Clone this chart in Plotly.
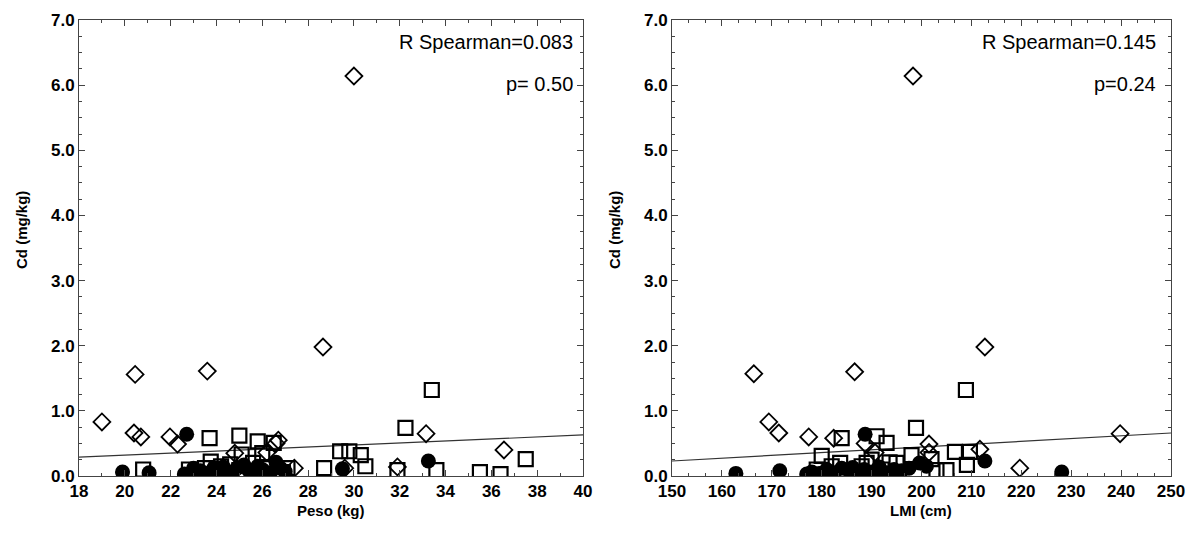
import plotly.graph_objects as go

# ---------------- data: left panel (Peso kg vs Cd mg/kg) ----------------
peso_diamond_x = [19.0, 20.45, 20.4, 20.7, 21.97, 22.3, 23.6, 28.65, 30.0, 33.15, 36.55,
                  24.8, 26.7, 26.6, 27.4, 26.2, 31.9, 29.6]
peso_diamond_y = [0.83, 1.56, 0.66, 0.60, 0.60, 0.49, 1.61, 1.98, 6.14, 0.65, 0.40,
                  0.35, 0.55, 0.50, 0.12, 0.36, 0.14, 0.12]

peso_square_x = [33.4, 32.25, 29.4, 29.8, 30.3, 30.5, 28.7, 31.9, 33.6, 35.5, 36.4, 37.5,
                 20.8, 23.7, 25.0, 25.8, 26.5, 23.75, 25.1, 26.0,
                 22.8, 23.5, 24.2, 25.0, 25.6, 26.3, 26.9, 27.1, 24.6]
peso_square_y = [1.32, 0.74, 0.38, 0.38, 0.32, 0.15, 0.12, 0.09, 0.09, 0.06, 0.03, 0.26,
                 0.10, 0.58, 0.62, 0.53, 0.51, 0.22, 0.33, 0.35,
                 0.10, 0.12, 0.15, 0.09, 0.20, 0.12, 0.06, 0.12, 0.18]

peso_circle_x = [22.7, 19.9, 21.06, 29.5, 33.25, 26.6, 25.2,
                 22.9, 23.3, 23.7, 24.1, 24.5, 24.9, 25.6, 26.0, 27.0, 23.0, 24.3, 25.8, 26.3,
                 22.6, 23.9, 24.7, 25.4, 26.8]
peso_circle_y = [0.64, 0.06, 0.05, 0.11, 0.23, 0.21, 0.17,
                 0.05, 0.08, 0.05, 0.10, 0.06, 0.12, 0.08, 0.10, 0.07, 0.12, 0.14, 0.15, 0.05,
                 0.03, 0.13, 0.04, 0.09, 0.12]

peso_fit_x = [18, 40]
peso_fit_y = [0.29, 0.63]

# ---------------- data: right panel (LMI cm vs Cd mg/kg) ----------------
lmi_diamond_x = [198.3, 166.4, 169.4, 171.4, 177.4, 182.4, 186.6, 212.7, 239.8, 219.7,
                 201.5, 201.5, 211.7, 188.7, 190.7]
lmi_diamond_y = [6.14, 1.57, 0.83, 0.66, 0.60, 0.58, 1.60, 1.98, 0.65, 0.12,
                 0.49, 0.36, 0.41, 0.50, 0.36]

lmi_square_x = [208.9, 198.9, 184.0, 191.0, 193.0, 180.0, 206.7, 209.7, 209.1, 198.0,
                203.0, 205.0, 189.0, 193.6, 183.7, 202.0,
                179.0, 182.0, 185.0, 188.0, 190.0, 192.0, 195.0]
lmi_square_y = [1.32, 0.74, 0.58, 0.61, 0.51, 0.31, 0.37, 0.37, 0.17, 0.32,
                0.09, 0.09, 0.20, 0.21, 0.20, 0.26,
                0.10, 0.15, 0.08, 0.15, 0.25, 0.10, 0.20]

lmi_circle_x = [162.8, 171.6, 228.1, 212.7, 188.7, 199.6,
                177.0, 178.0, 179.5, 181.0, 182.5, 184.0, 185.5, 187.0, 188.5, 190.0,
                191.5, 193.0, 194.5, 196.0, 201.0, 180.3, 186.2, 192.4, 197.5]
lmi_circle_y = [0.04, 0.08, 0.06, 0.23, 0.64, 0.20,
                0.03, 0.06, 0.04, 0.10, 0.05, 0.12, 0.08, 0.03, 0.10, 0.06,
                0.14, 0.05, 0.10, 0.08, 0.15, 0.02, 0.13, 0.03, 0.12]

lmi_fit_x = [150, 250]
lmi_fit_y = [0.23, 0.66]

y_ticks = [0, 1, 2, 3, 4, 5, 6, 7]
peso_ticks = list(range(18, 41, 2))
lmi_ticks = list(range(150, 251, 10))

FONT = "Liberation Sans, Arial, sans-serif"

fig = go.Figure()

def add_panel(xa, ya, dx, dy, sx, sy, cx, cy, fx, fy):
    fig.add_trace(go.Scatter(x=fx, y=fy, mode="lines", line=dict(color="#333333", width=1.2),
                             xaxis=xa, yaxis=ya, showlegend=False, hoverinfo="skip"))
    fig.add_trace(go.Scatter(x=cx, y=cy, mode="markers", xaxis=xa, yaxis=ya, showlegend=False,
                             marker=dict(symbol="circle", size=15, color="black",
                                         line=dict(color="black", width=0))))
    fig.add_trace(go.Scatter(x=sx, y=sy, mode="markers", xaxis=xa, yaxis=ya, showlegend=False,
                             marker=dict(symbol="square-open", size=14, color="black",
                                         line=dict(color="black", width=2.2))))
    fig.add_trace(go.Scatter(x=dx, y=dy, mode="markers", xaxis=xa, yaxis=ya, showlegend=False,
                             marker=dict(symbol="diamond-open", size=13, color="black",
                                         line=dict(color="black", width=1.8))))

add_panel("x", "y", peso_diamond_x, peso_diamond_y, peso_square_x, peso_square_y,
          peso_circle_x, peso_circle_y, peso_fit_x, peso_fit_y)
add_panel("x2", "y2", lmi_diamond_x, lmi_diamond_y, lmi_square_x, lmi_square_y,
          lmi_circle_x, lmi_circle_y, lmi_fit_x, lmi_fit_y)

W, H = 1195, 535
ydom = [1 - 476 / H, 1 - 20 / H]
x1dom = [79 / W, 583 / W]
x2dom = [672 / W, 1171 / W]

axis_common = dict(showline=True, linecolor="#444444", linewidth=1, mirror="ticks",
                   ticks="inside", ticklen=6, tickcolor="#444444", showgrid=False,
                   zeroline=False, automargin=False,
                   tickfont=dict(family=FONT, size=17, color="black", weight="bold"))

fig.update_layout(
    width=W, height=H,
    margin=dict(l=0, r=0, t=0, b=0),
    paper_bgcolor="white", plot_bgcolor="white",
    font=dict(family=FONT, color="black"),
    xaxis=dict(domain=x1dom, range=[18, 40], tickvals=peso_ticks, anchor="y",
               minor=dict(ticks="inside", ticklen=3, dtick=1, tickcolor="#444444"),
               **axis_common),
    yaxis=dict(domain=ydom, range=[0, 7], tickvals=y_ticks, tickformat=".1f", anchor="x",
               minor=dict(ticks="inside", ticklen=3, dtick=0.25, tickcolor="#444444"),
               **axis_common),
    xaxis2=dict(domain=x2dom, range=[150, 250], tickvals=lmi_ticks, anchor="y2",
                minor=dict(ticks="inside", ticklen=3, tick0=150, dtick=10 / 3, tickcolor="#444444"),
                **axis_common),
    yaxis2=dict(domain=ydom, range=[0, 7], tickvals=y_ticks, tickformat=".1f", anchor="x2",
                minor=dict(ticks="inside", ticklen=3, dtick=0.25, tickcolor="#444444"),
                **axis_common),
)

title_font = dict(family=FONT, size=15, color="black", weight="bold")
ann = [
    dict(text="Peso (kg)", x=331 / W, y=1 - 510 / H, font=title_font),
    dict(text="LMI (cm)", x=921 / W, y=1 - 510 / H, font=title_font),
    dict(text="Cd (mg/kg)", x=21 / W, y=1 - 230 / H, textangle=-90, font=title_font),
    dict(text="Cd (mg/kg)", x=614 / W, y=1 - 230 / H, textangle=-90, font=title_font),
    dict(text="R Spearman=0.083", x=575 / W, y=1 - 42 / H, xanchor="right",
         font=dict(family=FONT, size=20, color="black")),
    dict(text="p= 0.50", x=575 / W, y=1 - 84 / H, xanchor="right",
         font=dict(family=FONT, size=20, color="black")),
    dict(text="R Spearman=0.145", x=1158 / W, y=1 - 42 / H, xanchor="right",
         font=dict(family=FONT, size=20, color="black")),
    dict(text="p=0.24", x=1158 / W, y=1 - 84 / H, xanchor="right",
         font=dict(family=FONT, size=20, color="black")),
]
for a in ann:
    a.setdefault("xanchor", "center")
    fig.add_annotation(xref="paper", yref="paper", yanchor="middle", showarrow=False, **a)

fig.write_html("out.html")
